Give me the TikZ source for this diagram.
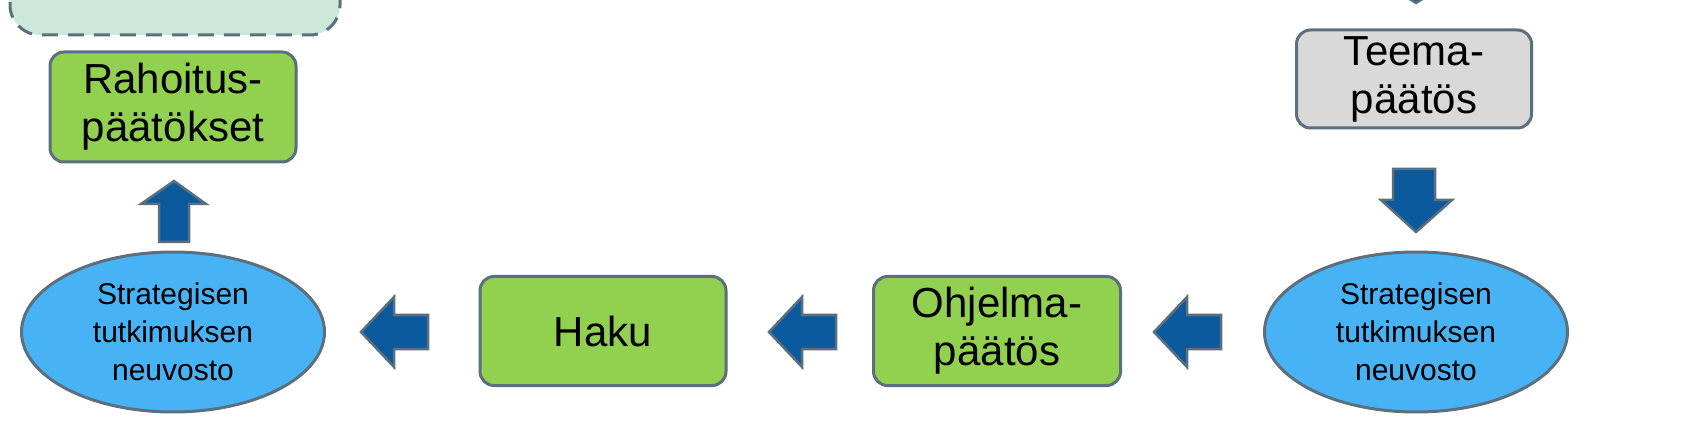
\documentclass[tikz,border=0pt]{standalone}
\usepackage{fontspec}
\setmainfont{Liberation Sans}
\usetikzlibrary{shapes.geometric}
\definecolor{gr}{HTML}{92D050}
\definecolor{bd}{HTML}{5B6F7F}
\definecolor{bl}{HTML}{47B3F5}
\definecolor{ab}{HTML}{0B5A9E}
\definecolor{lg}{HTML}{CDE8DA}
\definecolor{gy}{HTML}{D9D9D9}
\tikzset{
 box/.style={draw=bd,line width=3pt,rounded corners=14pt,align=center,font=\fontsize{42}{48}\selectfont,inner sep=0pt},
 ell/.style={ellipse,draw=bd,line width=3pt,fill=bl,align=center,minimum width=303pt,minimum height=160pt,font=\fontsize{30}{38}\selectfont,inner sep=0pt},
 barrow/.style={fill=ab,draw=bd,line width=2.5pt,line join=miter}
}
\begin{document}
\begin{tikzpicture}[x=1pt,y=-1pt]
\useasboundingbox (0,0) rectangle (1681,446);
\clip (0,0) rectangle (1681,446);
\draw[fill=lg,draw=bd,line width=3pt,dash pattern=on 16pt off 10pt,rounded corners=30pt] (10,-80) rectangle (340,35);
\draw[barrow] (1403,-20) -- (1429,-20) -- (1429,-12) -- (1440,-12) -- (1416,3) -- (1392,-12) -- (1403,-12) -- cycle;
\node[box,fill=gr,minimum width=246pt,minimum height=110pt] (rah) at (173,107) {Rahoitus-\\päätökset};
\node[box,fill=gy,minimum width=235pt,minimum height=98pt] (tee) at (1414,79) {Teema-\\päätös};
\node[box,fill=gr,minimum width=246pt,minimum height=109pt] (haku) at (603,331) {Haku};
\node[box,fill=gr,minimum width=247pt,minimum height=109pt] (ohj) at (997,331) {Ohjelma-\\päätös};
\node[ell] (e1) at (173,332) {Strategisen\\tutkimuksen\\neuvosto};
\node[ell] (e2) at (1416,332) {Strategisen\\tutkimuksen\\neuvosto};
% up arrow
\draw[barrow] (159,242) -- (189,242) -- (189,204) -- (206,204) -- (174,181) -- (141,204) -- (159,204) -- cycle;
% down arrow
\draw[barrow] (1393,169) -- (1435,169) -- (1435,200) -- (1452,200) -- (1416,232) -- (1381,200) -- (1393,200) -- cycle;
% left arrows
\foreach \x in {361,769,1154}{
 \draw[barrow] (\x,332) -- (\x+33,297) -- (\x+33,315) -- (\x+67,315) -- (\x+67,349) -- (\x+33,349) -- (\x+33,367) -- cycle;
}
\end{tikzpicture}
\end{document}
